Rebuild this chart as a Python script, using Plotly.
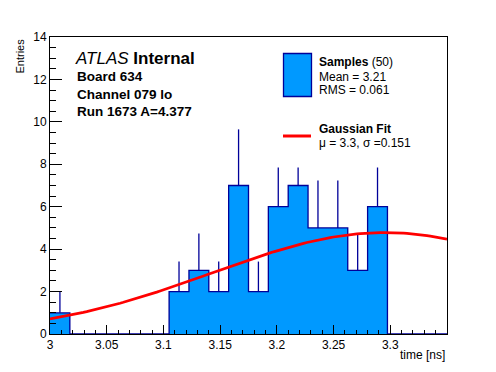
import numpy as np
import plotly.graph_objects as go

# ---- data ----
bin_low = 3.0
bin_width = 0.0175
counts = [1, 0, 0, 0, 0, 0, 2, 3, 2, 7, 2, 6, 7, 5, 5, 3, 6, 0, 0, 0]
fit_mu = 3.295
fit_sigma = 0.151
fit_amp = 4.78
x_range = [3.0, 3.35]
y_range = [0, 14]
x_ticks = [3.0, 3.05, 3.1, 3.15, 3.2, 3.25, 3.3]
x_ticklabels = ["3", "3.05", "3.1", "3.15", "3.2", "3.25", "3.3"]
y_ticks = [0, 2, 4, 6, 8, 10, 12, 14]

FILL = "#0099ff"
EDGE = "#000099"
FONT = "Liberation Sans, Arial, Helvetica, sans-serif"

nb = len(counts)
edges = [bin_low + i * bin_width for i in range(nb + 1)]
centers = [bin_low + (i + 0.5) * bin_width for i in range(nb)]

fig = go.Figure()
fig.add_trace(go.Bar(x=centers, y=counts, width=[bin_width] * nb,
                     marker=dict(color=FILL, line=dict(width=0)), showlegend=False))
fig.add_trace(go.Scatter(x=edges, y=counts + [counts[-1]], mode="lines",
                         line=dict(color=EDGE, width=1.3, shape="hv"), showlegend=False))
nz = [i for i in range(nb) if counts[i] > 0]
fig.add_trace(go.Scatter(x=[centers[i] for i in nz], y=[counts[i] for i in nz], mode="markers",
                         marker=dict(size=0.1, color=EDGE),
                         error_y=dict(type="data", symmetric=False,
                                      array=[float(np.sqrt(counts[i])) for i in nz],
                                      arrayminus=[0] * len(nz), width=0, thickness=1.3, color=EDGE),
                         showlegend=False))
xf = np.linspace(x_range[0], x_range[1], 120)
yf = fit_amp * np.exp(-0.5 * ((xf - fit_mu) / fit_sigma) ** 2)
fig.add_trace(go.Scatter(x=xf, y=yf, mode="lines", line=dict(color="#ff0000", width=2.7),
                         showlegend=False))

L, R, T, B = 50, 447, 37, 334
def px(x): return (x - L) / (R - L)
def py(y): return (B - y) / (B - T)

shapes = [
    dict(type="rect", xref="paper", yref="paper", x0=px(268), x1=px(444), y0=py(167.5), y1=py(40),
         fillcolor="white", line=dict(width=0), layer="above"),
    dict(type="rect", xref="paper", yref="paper", x0=px(283.5), x1=px(311.5), y0=py(96.5), y1=py(53.5),
         fillcolor=FILL, line=dict(color=EDGE, width=1.3), layer="above"),
    dict(type="line", xref="paper", yref="paper", x0=px(283), x1=px(311), y0=py(136), y1=py(136),
         line=dict(color="#ff0000", width=3), layer="above"),
]

def ann(text, x, y, size, xanchor="left", yanchor="middle", angle=0):
    return dict(text=text, xref="paper", yref="paper", x=px(x), y=py(y), showarrow=False,
                xanchor=xanchor, yanchor=yanchor, textangle=angle,
                font=dict(family=FONT, size=size, color="black"))

annotations = [
    ann("<i>ATLAS</i> <b>Internal</b>", 73, 58, 17),
    ann("<b>Board 634</b>", 74.5, 76.5, 13.5),
    ann("<b>Channel 079 lo</b>", 74.5, 94.5, 13.5),
    ann("<b>Run 1673 A=4.377</b>", 74.5, 111.5, 13.5),
    ann("<b>Samples</b> (50)", 317, 61.5, 12),
    ann("Mean = 3.21", 317, 76.5, 12),
    ann("RMS = 0.061", 317, 89.5, 12),
    ann("<b>Gaussian Fit</b>", 317, 129, 12),
    ann("μ = 3.3, σ =0.151", 317, 142.5, 12),
    ann("Entries", 19, 37, 11, xanchor="center", yanchor="top", angle=-90),
    ann("time [ns]", 446.5, 355, 12, xanchor="right"),
]

fig.update_layout(
    width=496, height=372,
    margin=dict(l=L, r=496 - R, t=T, b=372 - B),
    paper_bgcolor="white", plot_bgcolor="white",
    bargap=0, showlegend=False,
    shapes=shapes, annotations=annotations,
    font=dict(family=FONT, size=12, color="black"),
    xaxis=dict(range=x_range, tickvals=x_ticks, ticktext=x_ticklabels,
               ticks="inside", ticklen=9, tickwidth=1, tickcolor="black",
               minor=dict(ticks="inside", ticklen=4, dtick=0.01, tickcolor="black", tickwidth=1),
               showline=True, linecolor="black", linewidth=1, mirror=True,
               showgrid=False, zeroline=False, tickfont=dict(size=12)),
    yaxis=dict(range=y_range, tickvals=y_ticks,
               ticks="inside", ticklen=12, tickwidth=1, tickcolor="black",
               minor=dict(ticks="inside", ticklen=6, dtick=0.5, tickcolor="black", tickwidth=1),
               showline=True, linecolor="black", linewidth=1, mirror=True,
               showgrid=False, zeroline=False, tickfont=dict(size=12)),
)

fig.write_html("out.html", config={"displayModeBar": False},
               post_script="document.body.style.margin='0px';document.body.style.overflow='hidden';")
